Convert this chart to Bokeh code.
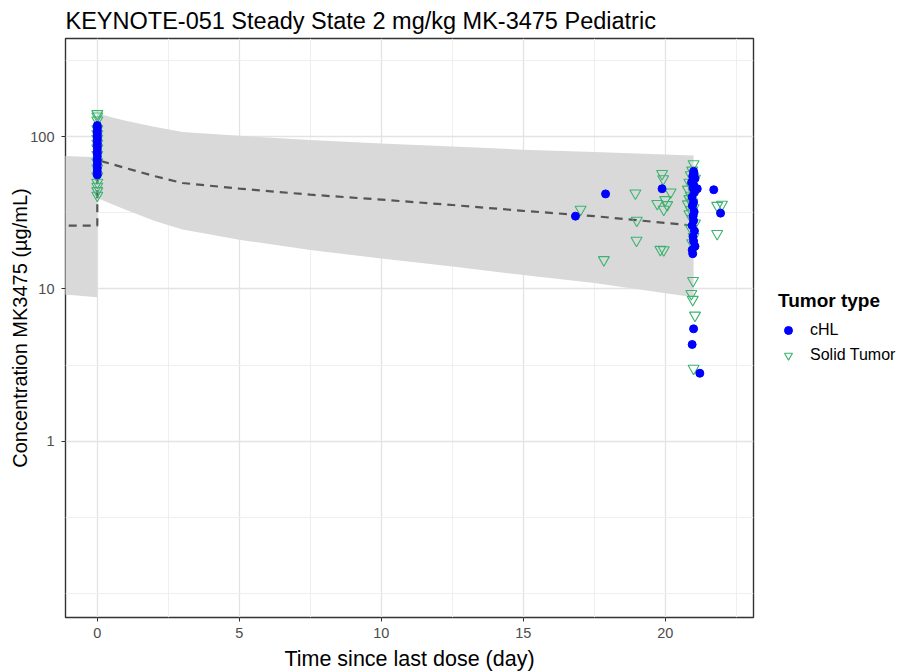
from bokeh.plotting import figure
from bokeh.models import (ColumnDataSource, FixedTicker, PrintfTickFormatter,
                          Legend, LegendItem, Range1d)
from bokeh.embed import file_html
from bokeh.resources import INLINE

# ---- model prediction (median and 90% interval) ----
pred_time = [-1.5, 0, 0, 0.5, 1, 2, 3, 5, 7.5, 10, 12.5, 15, 17.5, 21]
pred_median = [26, 26, 70, 66, 62, 55, 49.5, 45.5, 41.5, 38.5, 35.5, 32.5, 30, 26]
pred_upper = [75, 73, 142, 134, 127, 116, 107, 101, 95, 90, 86, 82, 79, 75]
pred_lower = [9.3, 8.8, 39.5, 36, 33, 28, 24.5, 21, 18, 15.8, 14, 12.3, 10.9, 8.8]

# ---- observed: cHL ----
chl_time = [0] * 16 + [16.84, 17.9, 19.89, 21.13, 21.71, 21.95, 21.22, 20.95, 21.0,
                       21.0, 21.02, 20.97, 21.05, 20.93, 21.0, 20.98, 21.03, 20.95, 21.0,
                       20.96, 21.02, 20.98, 21.0, 20.95, 21.03, 20.98, 21.0, 21.05, 20.95, 20.97]
chl_conc = [118, 114, 109, 104, 99, 95, 90, 86, 82, 78, 74, 70, 66, 62, 59, 56,
            30.0, 42.0, 45.4, 45.4, 44.7, 31.4, 2.79, 4.31, 5.46,
            59, 57, 55, 53, 50, 48, 46, 43, 40, 37,
            35, 32, 30, 28, 26, 24, 22, 20.5, 19, 18, 17]

# ---- observed: Solid Tumor ----
solid_time = [0] * 16 + [17.02, 17.84, 18.95, 18.99, 19.0, 19.89, 19.93, 20.19, 20.0, 20.07,
                         19.95, 19.72, 19.83, 19.95, 21.83, 22.0, 21.83,
                         21.0, 20.95, 20.9, 21.05, 20.85, 20.95, 20.8, 21.0, 20.9, 20.85,
                         20.95, 20.8, 21.0, 20.9, 20.85, 20.95, 21.05, 20.9, 21.0, 20.95,
                         20.98, 20.92, 20.97, 21.05, 21.0]
solid_conc = [141, 136, 128, 112, 104, 97, 90, 84, 76, 68, 62, 55, 50, 47, 44, 41,
              33.2, 15.5, 42.5, 20.8, 28.1, 57, 52.7, 43.1, 38.4, 35.6,
              33.2, 36.2, 18.1, 18.0, 35.2, 35.8, 23.0,
              66, 60, 56, 53, 50, 47, 45, 43, 41, 39,
              37, 36, 34, 33, 31, 29, 27, 25, 22, 20,
              11.3, 9.3, 8.5, 6.7, 3.0]

x_major = [0, 5, 10, 15, 20]
x_minor = [2.5, 7.5, 12.5, 17.5, 22.5]
y_major = [1, 10, 100]
y_minor = [0.1, 0.316, 3.16, 31.6, 316]

FONT = "Liberation Sans"

p = figure(frame_width=688, frame_height=579, y_axis_type="log",
           x_range=Range1d(-1.12, 23.11), y_range=Range1d(0.0695, 440),
           output_backend="svg", toolbar_location=None,
           min_border_left=65, min_border_right=146, min_border_top=38,
           min_border_bottom=45,
           title="KEYNOTE-051 Steady State 2 mg/kg MK-3475 Pediatric",
           x_axis_label="Time since last dose (day)",
           y_axis_label="Concentration MK3475 (µg/mL)")

p.background_fill_color = "white"
p.border_fill_color = "white"
p.outline_line_color = "#333333"
p.outline_line_width = 1.4

p.title.text_font = FONT
p.title.text_font_size = "23.5px"
p.title.text_font_style = "normal"
p.title.text_color = "black"
p.title.align = "left"
p.title.standoff = 10

for ax in (p.xaxis[0], p.yaxis[0]):
    ax.axis_line_color = None
    ax.major_tick_line_color = "#333333"
    ax.major_tick_in = 0
    ax.major_tick_out = 4
    ax.minor_tick_line_color = None
    ax.major_label_text_font = FONT
    ax.major_label_text_font_size = "14.5px"
    ax.major_label_text_color = "#4D4D4D"
    ax.axis_label_text_font = FONT
    ax.axis_label_text_font_style = "normal"
    ax.axis_label_text_color = "black"

p.xaxis[0].major_label_standoff = 6
p.yaxis[0].major_label_standoff = 7
p.xaxis[0].axis_label_text_font_size = "21.5px"
p.xaxis[0].axis_label_standoff = 6
p.yaxis[0].axis_label_text_font_size = "20px"
p.yaxis[0].axis_label_standoff = -4

p.xaxis[0].ticker = FixedTicker(ticks=x_major, minor_ticks=x_minor)
p.yaxis[0].ticker = FixedTicker(ticks=y_major, minor_ticks=y_minor)
p.yaxis[0].formatter = PrintfTickFormatter(format="%d")

for g in (p.xgrid[0], p.ygrid[0]):
    g.grid_line_color = "#E3E3E3"
    g.grid_line_width = 1.3
    g.minor_grid_line_color = "#EFEFEF"
    g.minor_grid_line_width = 1
p.xgrid[0].ticker = p.xaxis[0].ticker
p.ygrid[0].ticker = p.yaxis[0].ticker

pred = ColumnDataSource(dict(t=pred_time, med=pred_median, lo=pred_lower, hi=pred_upper))
p.varea(x="t", y1="lo", y2="hi", source=pred, fill_color="#D9D9D9", fill_alpha=1.0)
p.line(x="t", y="med", source=pred, line_color="#555555", line_width=2.2,
       line_dash="8 6")

solid_src = ColumnDataSource(dict(t=solid_time, c=solid_conc))
chl_src = ColumnDataSource(dict(t=chl_time, c=chl_conc))
r_solid = p.scatter(x="t", y="c", source=solid_src, marker="inverted_triangle",
                    size=11, fill_color=None, line_color="#3CB371", line_width=1.1)
r_chl = p.scatter(x="t", y="c", source=chl_src, marker="circle", size=8,
                  fill_color="#0000FF", line_color="#0000FF")

legend = Legend(items=[LegendItem(label="cHL", renderers=[r_chl]),
                       LegendItem(label="Solid Tumor", renderers=[r_solid])],
                location=(25, 252), title="Tumor type",
                title_text_font=FONT, title_text_font_size="19px",
                title_text_font_style="bold", title_text_color="black",
                title_standoff=8,
                label_text_font=FONT, label_text_font_size="16px",
                label_text_color="black",
                glyph_width=20, glyph_height=20, label_height=20,
                label_standoff=12, spacing=5, padding=10, margin=0,
                border_line_color=None, background_fill_alpha=0)
p.add_layout(legend, "right")

open("out.html", "w").write(file_html(p, INLINE))
